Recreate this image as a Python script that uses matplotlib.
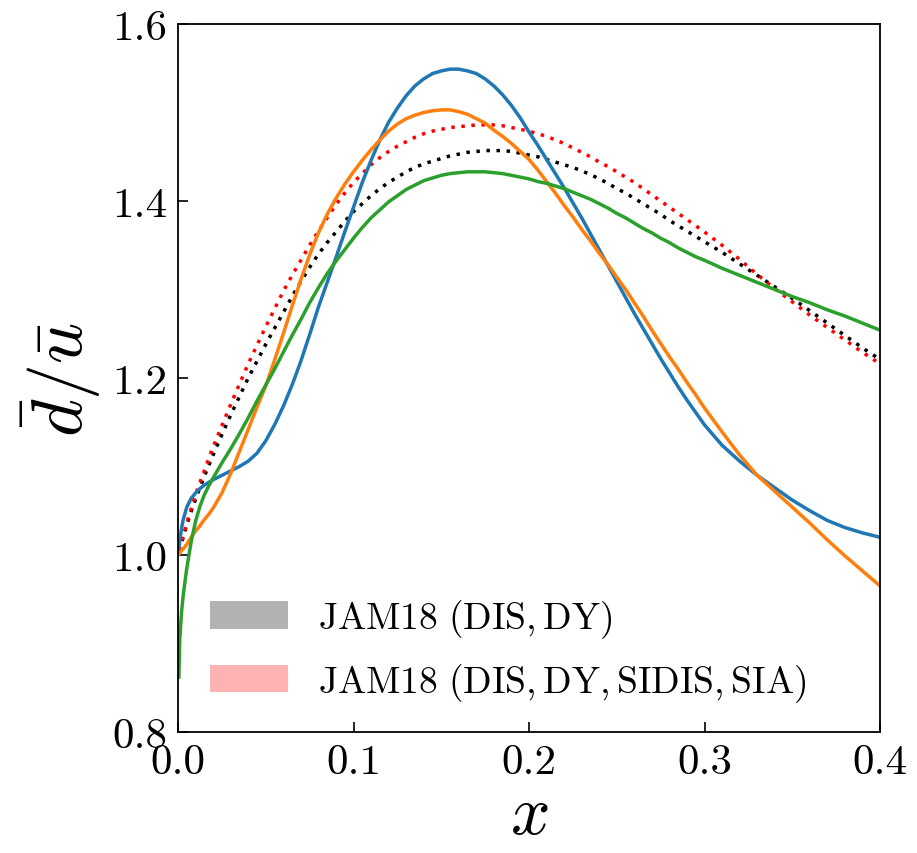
import matplotlib
matplotlib.use("Agg")
import matplotlib.pyplot as plt
from matplotlib.patches import Patch

plt.rcParams["font.family"] = "serif"
plt.rcParams["font.serif"] = ["cmr10", "DejaVu Serif"]
plt.rcParams["mathtext.fontset"] = "cm"
plt.rcParams["axes.formatter.use_mathtext"] = True

# momentum fraction grid
x = [0.0005, 0.001, 0.002, 0.003, 0.005, 0.0075, 0.01, 0.0125, 0.015, 0.0175, 0.02,
     0.025, 0.03, 0.035, 0.04, 0.045, 0.05, 0.055, 0.06, 0.065, 0.07,
     0.075, 0.08, 0.085, 0.09, 0.095, 0.10, 0.105, 0.11, 0.115, 0.12,
     0.125, 0.13, 0.135, 0.14, 0.145, 0.15, 0.155, 0.16, 0.165, 0.17,
     0.175, 0.18, 0.185, 0.19, 0.195, 0.20, 0.205, 0.21, 0.215, 0.22,
     0.225, 0.23, 0.235, 0.24, 0.245, 0.25, 0.255, 0.26, 0.265, 0.27,
     0.275, 0.28, 0.285, 0.29, 0.295, 0.30,
     0.31, 0.32, 0.33, 0.34, 0.35, 0.36, 0.37, 0.38, 0.39, 0.40]

# dbar/ubar ratio for each parametrisation
ratio_blue = [1.008, 1.016, 1.030, 1.040, 1.054, 1.064, 1.070, 1.075, 1.079, 1.082, 1.085,
              1.090, 1.095, 1.100, 1.106, 1.115, 1.129, 1.147, 1.168, 1.192, 1.219,
              1.249, 1.280, 1.308, 1.336, 1.365, 1.393, 1.421, 1.446, 1.469, 1.489,
              1.505, 1.519, 1.530, 1.538, 1.544, 1.547, 1.549, 1.549, 1.547, 1.544,
              1.538, 1.530, 1.520, 1.508, 1.494, 1.478, 1.463, 1.447, 1.431, 1.415,
              1.398, 1.381, 1.363, 1.345, 1.327, 1.309, 1.291, 1.273, 1.256, 1.239,
              1.222, 1.206, 1.190, 1.175, 1.161, 1.147,
              1.124, 1.106, 1.090, 1.076, 1.062, 1.050, 1.039, 1.031, 1.025, 1.020]
ratio_orange = [1.001, 1.002, 1.005, 1.007, 1.012, 1.020, 1.027, 1.033, 1.040, 1.046, 1.053,
                1.070, 1.092, 1.117, 1.142, 1.167, 1.191, 1.220, 1.250, 1.281, 1.311,
                1.339, 1.364, 1.385, 1.403, 1.419, 1.433, 1.446, 1.458, 1.469, 1.479,
                1.487, 1.493, 1.497, 1.500, 1.502, 1.503, 1.503, 1.501, 1.498, 1.493,
                1.488, 1.480, 1.473, 1.465, 1.456, 1.447, 1.435, 1.422, 1.409, 1.395,
                1.382, 1.368, 1.355, 1.341, 1.328, 1.314, 1.300, 1.285, 1.270, 1.254,
                1.239, 1.224, 1.210, 1.195, 1.181, 1.166,
                1.139, 1.113, 1.090, 1.072, 1.054, 1.036, 1.017, 0.999, 0.982, 0.965]
ratio_green = [0.862, 0.905, 0.935, 0.955, 0.985, 1.015, 1.038, 1.055, 1.068, 1.078, 1.087,
               1.104, 1.120, 1.137, 1.155, 1.174, 1.192, 1.210, 1.229, 1.248, 1.266,
               1.285, 1.302, 1.318, 1.332, 1.345, 1.358, 1.370, 1.381, 1.390, 1.399,
               1.406, 1.413, 1.418, 1.423, 1.426, 1.429, 1.431, 1.432, 1.433, 1.433,
               1.433, 1.432, 1.431, 1.429, 1.427, 1.425, 1.422, 1.420, 1.417, 1.414,
               1.410, 1.406, 1.402, 1.397, 1.392, 1.386, 1.381, 1.375, 1.369, 1.364,
               1.358, 1.353, 1.347, 1.342, 1.337, 1.333,
               1.324, 1.316, 1.308, 1.300, 1.292, 1.285, 1.277, 1.270, 1.262, 1.254]
jam_dis_dy = [1.005, 1.008, 1.014, 1.020, 1.034, 1.049, 1.063, 1.076, 1.089, 1.101, 1.113,
              1.136, 1.158, 1.179, 1.200, 1.219, 1.238, 1.256, 1.274, 1.292, 1.309,
              1.325, 1.340, 1.353, 1.365, 1.377, 1.388, 1.397, 1.406, 1.414, 1.421,
              1.427, 1.433, 1.438, 1.442, 1.445, 1.448, 1.451, 1.453, 1.455, 1.456,
              1.457, 1.457, 1.457, 1.456, 1.454, 1.452, 1.450, 1.447, 1.444, 1.441,
              1.438, 1.434, 1.430, 1.425, 1.420, 1.414, 1.409, 1.403, 1.397, 1.391,
              1.385, 1.378, 1.372, 1.366, 1.360, 1.354,
              1.342, 1.329, 1.316, 1.303, 1.290, 1.276, 1.262, 1.248, 1.234, 1.221]
jam_all = [1.006, 1.009, 1.015, 1.021, 1.036, 1.052, 1.068, 1.082, 1.095, 1.109, 1.122,
           1.146, 1.170, 1.193, 1.216, 1.237, 1.258, 1.278, 1.298, 1.316, 1.333,
           1.350, 1.366, 1.381, 1.396, 1.409, 1.421, 1.431, 1.441, 1.449, 1.456,
           1.462, 1.467, 1.472, 1.476, 1.479, 1.481, 1.483, 1.484, 1.485, 1.486,
           1.486, 1.486, 1.485, 1.483, 1.481, 1.479, 1.476, 1.473, 1.469, 1.465,
           1.460, 1.455, 1.450, 1.444, 1.439, 1.433, 1.427, 1.421, 1.414, 1.407,
           1.400, 1.393, 1.386, 1.379, 1.372, 1.365,
           1.350, 1.334, 1.317, 1.301, 1.286, 1.271, 1.257, 1.243, 1.229, 1.216]

legend_labels = [r"$\mathrm{JAM18\ (DIS,DY)}$",
                 r"$\mathrm{JAM18\ (DIS,DY,SIDIS,SIA)}$"]
x_ticks = [0.0, 0.1, 0.2, 0.3, 0.4]
y_ticks = [0.8, 1.0, 1.2, 1.4, 1.6]

fig = plt.figure(figsize=(9.17, 8.54), dpi=100)
ax = fig.add_axes([0.1941, 0.1417, 0.7656, 0.829])

dots = (0, (1, 1.9))
ax.plot(x, jam_dis_dy, color="k", lw=2.5, linestyle=dots)
ax.plot(x, jam_all, color="r", lw=2.5, linestyle=dots)
ax.plot(x, ratio_blue, color="C0", lw=2.5)
ax.plot(x, ratio_orange, color="C1", lw=2.5)
ax.plot(x, ratio_green, color="C2", lw=2.5)

ax.set_xlim(0.0, 0.4)
ax.set_ylim(0.8, 1.6)
ax.set_xticks(x_ticks)
ax.set_yticks(y_ticks)
ax.set_xticklabels([f"{v:.1f}" for v in x_ticks])
ax.set_yticklabels([f"{v:.1f}" for v in y_ticks])
ax.tick_params(direction="in", length=7, width=1.2, labelsize=31, pad=8)
for s in ax.spines.values():
    s.set_linewidth(1.3)

ax.set_xlabel(r"$x$", fontsize=50, labelpad=3)
ax.set_ylabel(r"$\bar{d}/\bar{u}$", fontsize=52, labelpad=6)

handles = [Patch(facecolor="k", alpha=0.3, edgecolor="none"),
           Patch(facecolor="r", alpha=0.3, edgecolor="none")]
ax.legend(handles, legend_labels, loc="lower left",
          bbox_to_anchor=(0.046, 0.040), frameon=False, fontsize=27,
          handlelength=2.08, handleheight=0.75, handletextpad=0.8,
          labelspacing=0.55, borderpad=0, borderaxespad=0)

fig.savefig("out.png", dpi=100)
